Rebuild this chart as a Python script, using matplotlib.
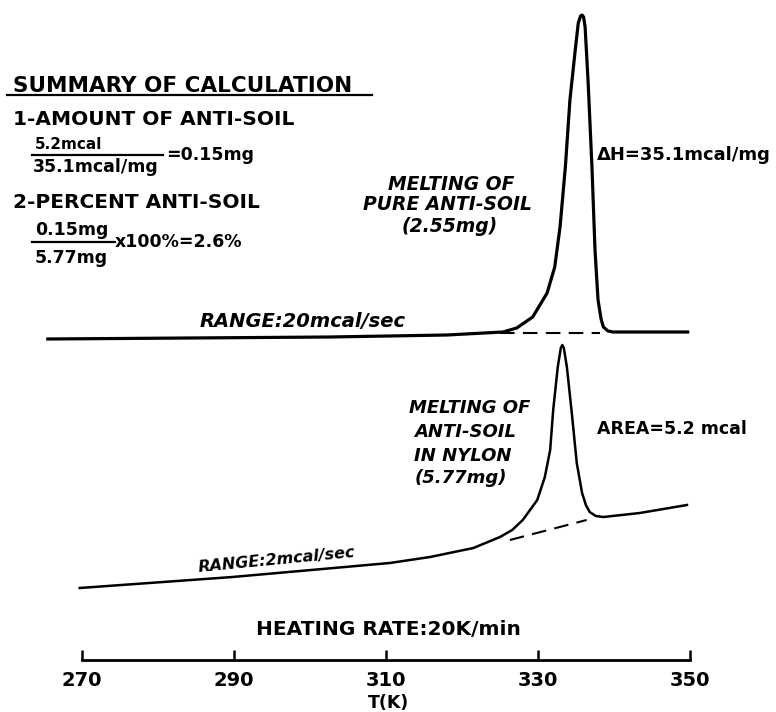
import matplotlib.pyplot as plt
from matplotlib.lines import Line2D

plt.rcParams['font.family'] = ['DejaVu Sans']
plt.rcParams['font.weight'] = 'bold'
plt.rcParams['axes.labelweight'] = 'bold'

# DSC traces: temperature (K) and pen deflection (chart units)
t_pure = [265.5, 302.6, 318.0, 325.4, 327.2, 329.3, 331.2, 332.2, 332.9, 333.6, 334.2,
          334.9, 335.3, 335.6, 335.8, 336.0, 336.2, 336.6, 337.1, 337.5, 337.9,
          338.3, 338.6, 339.2, 339.9, 349.7]
h_pure = [37.3, 37.5, 37.7, 38.0, 38.4, 39.5, 41.9, 44.5, 48.5, 54.5, 61.2,
          66.2, 68.9, 69.6, 69.7, 69.5, 68.5, 62.9, 54.5, 46.2, 41.2,
          39.3, 38.5, 38.1, 38.0, 38.0]

t_nylon = [269.7, 289.8, 310.5, 315.8, 321.5, 325.0, 326.6, 328.0, 329.9, 330.9,
           331.6, 332.0, 332.6, 333.0, 333.2, 333.4, 333.8, 334.5, 335.1, 335.8,
           336.3, 336.8, 337.6, 338.6, 343.4, 349.6]
h_nylon = [12.4, 13.5, 14.9, 15.5, 16.4, 17.5, 18.2, 19.2, 21.2, 23.5,
           26.2, 30.2, 34.5, 36.4, 36.7, 36.4, 34.5, 29.5, 24.9, 21.9,
           20.7, 20.0, 19.6, 19.5, 19.9, 20.7]

# interpolated baselines under the peaks
t_base_pure = [325.0, 338.2]
h_base_pure = [37.9, 37.9]
t_base_nylon = [326.3, 336.4]
h_base_nylon = [17.2, 19.2]

temp_ticks = [270, 290, 310, 330, 350]

W, H = 776, 712
fig = plt.figure(figsize=(W / 100, H / 100), dpi=100)
ax = fig.add_axes([0, 0, 1, 1])
# 270 K sits 82 px from the left edge, 7.6 px per kelvin
ax.set_xlim(270 - 82 / 7.6, 270 + (W - 82) / 7.6)
ax.set_ylim(0, H / 10)
ax.patch.set_visible(False)

ax.plot(t_pure, h_pure, color='black', lw=2.3, solid_joinstyle='round')
ax.plot(t_base_pure, h_base_pure, color='black', lw=1.5, dashes=(7, 4))
ax.plot(t_nylon, h_nylon, color='black', lw=1.8, solid_joinstyle='round')
ax.plot(t_base_nylon, h_base_nylon, color='black', lw=1.5, dashes=(7, 4))

# temperature scale
for s in ['top', 'left', 'right']:
    ax.spines[s].set_visible(False)
ax.spines['bottom'].set_position(('data', 5.2))
ax.spines['bottom'].set_bounds(temp_ticks[0], temp_ticks[-1])
ax.spines['bottom'].set_linewidth(2)
ax.set_xticks(temp_ticks)
ax.set_yticks([])
ax.tick_params(axis='x', direction='in', length=7, width=1.8, pad=8, labelsize=14)
ax.set_xlabel('T(K)', fontsize=12.5, labelpad=3)


def put(x, y, s, size, ha='left', **kw):
    # x, y in pixels from the top-left corner, y is the text baseline
    fig.text(x / W, 1 - y / H, s, fontsize=size, ha=ha, va='baseline', **kw)


def rule(x0, x1, y, lw=1.6):
    fig.add_artist(Line2D([x0 / W, x1 / W], [1 - y / H, 1 - y / H],
                          color='black', lw=lw))


# summary block
put(13, 92, 'SUMMARY OF CALCULATION', 15.5)
rule(7, 372, 95)
put(13, 125, '1-AMOUNT OF ANTI-SOIL', 14.5)
put(35, 149, '5.2mcal', 11)
rule(32, 163, 155)
put(33, 172, '35.1mcal/mg', 12.5)
put(166, 160, '=0.15mg', 12.5)
put(13, 208, '2-PERCENT ANTI-SOIL', 14.5)
put(35, 235, '0.15mg', 12.5)
rule(32, 115, 242)
put(35, 263, '5.77mg', 12.5)
put(115, 247, 'x100%=2.6%', 12.5)

# upper trace labels
put(451, 190, 'MELTING OF', 13.5, ha='center', style='italic')
put(448, 210, 'PURE ANTI-SOIL', 13.5, ha='center', style='italic')
put(450, 232, '(2.55mg)', 13.5, ha='center', style='italic')
put(597, 160, '\u0394H=35.1mcal/mg', 13)
put(200, 327, 'RANGE:20mcal/sec', 14, style='italic')

# lower trace labels
put(470, 413, 'MELTING OF', 13, ha='center', style='italic')
put(465, 437, 'ANTI-SOIL', 13, ha='center', style='italic')
put(463, 461, 'IN NYLON', 13, ha='center', style='italic')
put(461, 483, '(5.77mg)', 13, ha='center', style='italic')
put(597, 434, 'AREA=5.2 mcal', 12.5)
fig.text(199 / W, 1 - 572 / H, 'RANGE:2mcal/sec', fontsize=11.5, style='italic',
         ha='left', va='baseline', rotation=5.5, rotation_mode='anchor')

put(388, 635, 'HEATING RATE:20K/min', 14.5, ha='center')

fig.savefig('out.png', dpi=100)
